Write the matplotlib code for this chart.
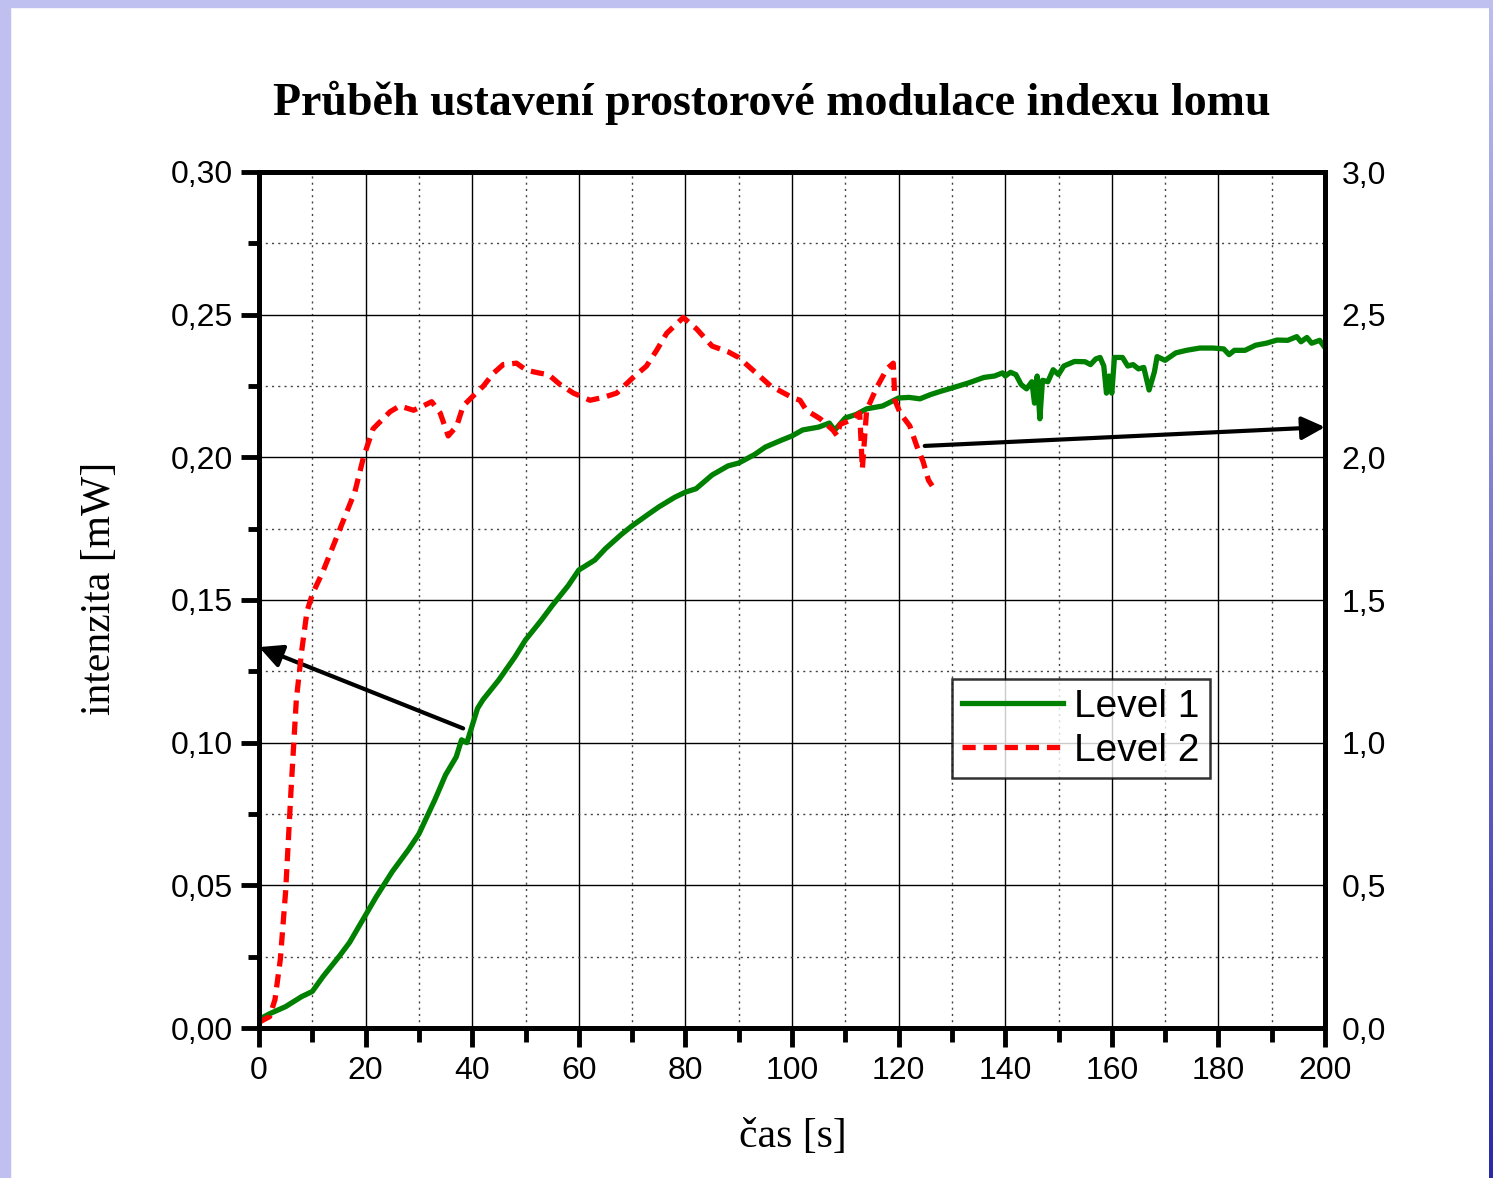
import numpy as np
import matplotlib.pyplot as plt
from matplotlib.ticker import MultipleLocator, FuncFormatter
from matplotlib.colors import LinearSegmentedColormap

# Level 1 - intensity [mW], left axis
t_level1 = [0, 2, 5, 8, 10, 12, 15, 17, 20, 22, 25, 28, 30, 33, 35, 37, 38, 39, 40, 41,
            42, 45, 48, 50, 53, 55, 58, 60, 63, 65, 68, 70, 73, 75, 78, 80, 82, 85, 88, 90,
            93, 95, 98, 100, 102, 105, 107, 108, 110, 112, 114, 117, 120, 122, 124, 126, 128, 130, 133, 136,
            138, 139.5, 140, 141, 142, 143, 144, 145, 145.5, 146, 146.5, 147, 148, 149, 150, 151, 153, 155, 156, 157,
            157.8, 158.5, 159, 159.5, 160, 160.5, 162, 163, 164, 165, 166, 167, 168, 168.5, 170, 172, 174, 176.5, 179, 181,
            182, 183, 185, 187, 189, 191, 193, 194.7, 195.5, 196.6, 197.5, 199, 200]
v_level1 = [0.003, 0.005, 0.0075, 0.011, 0.0128, 0.018, 0.025, 0.030, 0.0396, 0.046, 0.0548, 0.0624, 0.068, 0.080, 0.0887, 0.095, 0.101, 0.100, 0.106, 0.112,
            0.115, 0.122, 0.130, 0.136, 0.143, 0.148, 0.155, 0.1605, 0.164, 0.168, 0.173, 0.176, 0.180, 0.1826, 0.186, 0.1878, 0.189, 0.1938, 0.197, 0.198,
            0.201, 0.2036, 0.206, 0.2075, 0.2096, 0.2106, 0.212, 0.2095, 0.2138, 0.215, 0.217, 0.218, 0.2208, 0.221, 0.2205, 0.222, 0.2232, 0.2243, 0.226, 0.228,
            0.2285, 0.2296, 0.2285, 0.2298, 0.229, 0.2255, 0.224, 0.2265, 0.219, 0.2285, 0.2135, 0.227, 0.2265, 0.2307, 0.229, 0.232, 0.2336, 0.2335, 0.2325, 0.2345,
            0.235, 0.232, 0.2225, 0.2285, 0.2225, 0.235, 0.235, 0.232, 0.2325, 0.231, 0.2315, 0.2236, 0.230, 0.2353, 0.234, 0.2366, 0.2375, 0.2383, 0.2383, 0.238,
            0.236, 0.2375, 0.2375, 0.2393, 0.240, 0.2411, 0.241, 0.2423, 0.2405, 0.242, 0.240, 0.241, 0.2384]

# Level 2 - right axis
t_level2 = [0, 2, 3, 4, 5, 6, 7, 8, 9, 10, 12, 15, 18, 19.6, 21.4, 24.6, 26.4, 29, 30.8, 32.4,
            34, 35.5, 37.1, 38.3, 39.9, 42.1, 44, 45.8, 48.3, 50.2, 52.7, 54.3, 56.5, 59, 62.1, 64.6, 67.1, 70.2, 72.7, 74.6,
            76.5, 79.6, 82.1, 85, 88, 90, 93, 96, 100, 101.5, 102.7, 105.3, 107.7, 108.5, 109, 110.9, 112.7, 113.2, 114, 115.9,
            117.8, 119, 119.3, 120.3, 122.1, 123.4, 124.6, 125.6, 126.3]
v_level2 = [0.02, 0.04, 0.10, 0.24, 0.48, 0.83, 1.15, 1.32, 1.46, 1.52, 1.60, 1.74, 1.88, 2.00, 2.10, 2.16, 2.18, 2.165, 2.18, 2.195,
            2.155, 2.075, 2.11, 2.18, 2.21, 2.25, 2.295, 2.325, 2.33, 2.305, 2.295, 2.29, 2.255, 2.225, 2.20, 2.21, 2.225, 2.28, 2.32, 2.375,
            2.435, 2.49, 2.45, 2.39, 2.37, 2.35, 2.30, 2.25, 2.21, 2.20, 2.165, 2.135, 2.095, 2.075, 2.115, 2.13, 2.155, 1.96, 2.165, 2.245,
            2.31, 2.33, 2.20, 2.155, 2.11, 2.04, 1.985, 1.92, 1.90]

# arrows: (start x, start y) -> (end x, end y), in left-axis units
arrow_from = [(38.3, 0.105), (124.9, 0.204)]
arrow_to = [(0, 0.1335), (200, 0.2106)]


def comma(v, pos, nd):
    return f'{v:.{nd}f}'.replace('.', ',')


plt.rcParams['font.family'] = 'Liberation Sans'
fig = plt.figure(figsize=(14.93, 11.78), dpi=100)

# slide-like frame
fig.patches.append(plt.Rectangle((0, 1 - 7/1178), 1, 7/1178, transform=fig.transFigure,
                                 color='#C0C0F0', zorder=0))
fig.patches.append(plt.Rectangle((0, 0), 10/1493, 1, transform=fig.transFigure,
                                 color='#C0C0F0', zorder=0))
gax = fig.add_axes([1489/1493, 0, 4/1493, 1])
grad = np.linspace(0, 1, 256).reshape(-1, 1)
cm = LinearSegmentedColormap.from_list('frame', ['#BEBEF0', '#2A2AA8'])
gax.imshow(grad, aspect='auto', cmap=cm, origin='upper')
gax.axis('off')

ax = fig.add_axes([259/1493, 1 - 1028/1178, 1066/1493, 856/1178])
ax2 = ax.twinx()

l1, = ax.plot(t_level1, v_level1, color='#008000', lw=3.8, label='Level 1', zorder=3)
l2, = ax2.plot(t_level2, v_level2, color='#FF0000', lw=3.8, ls=(0, (2.5, 1.5)), label='Level 2')

ax.set_xlim(0, 200)
ax.set_ylim(0, 0.30)
ax2.set_ylim(0, 3.0)

ax.xaxis.set_major_locator(MultipleLocator(20))
ax.xaxis.set_minor_locator(MultipleLocator(10))
ax.yaxis.set_major_locator(MultipleLocator(0.05))
ax.yaxis.set_minor_locator(MultipleLocator(0.025))
ax.yaxis.set_major_formatter(FuncFormatter(lambda v, p: comma(v, p, 2)))
ax2.yaxis.set_major_locator(MultipleLocator(0.5))
ax2.yaxis.set_major_formatter(FuncFormatter(lambda v, p: comma(v, p, 1)))

ax.grid(which='major', color='black', lw=1.0, ls='-')
ax.grid(which='minor', color='#444444', lw=1.0, ls=(0, (1.5, 3)))

for a in (ax, ax2):
    for s in a.spines.values():
        s.set_linewidth(3.5)

ax.tick_params(axis='both', which='major', direction='out', width=3.5, labelsize=23)
ax.tick_params(axis='x', which='major', length=14, pad=6)
ax.tick_params(axis='x', which='minor', direction='out', length=10, width=3.5)
ax.tick_params(axis='y', which='major', length=13, pad=6)
ax.tick_params(axis='y', which='minor', direction='out', length=8, width=3.5)
ax2.tick_params(axis='y', which='both', length=0, pad=12, labelsize=23)

for (x0, y0), (x1, y1) in zip(arrow_from, arrow_to):
    ax.annotate('', xy=(x1, y1), xytext=(x0, y0),
                arrowprops=dict(arrowstyle='-|>', color='black', lw=3, mutation_scale=35,
                                shrinkA=0, shrinkB=0),
                annotation_clip=False, zorder=6)

leg = ax2.legend(handles=[l1, l2], loc='upper left', bbox_to_anchor=(0.650, 0.4077),
                 borderaxespad=0, fontsize=28, frameon=True, fancybox=False,
                 handlelength=2.6, handletextpad=0.3, borderpad=0.25, labelspacing=0.2)
leg.get_frame().set_edgecolor('black')
leg.get_frame().set_linewidth(1.8)

fig.text(772/1493, 1 - 103/1178, 'Průběh ustavení prostorové modulace indexu lomu',
         family='Liberation Serif', weight='bold', fontsize=33, ha='center', va='center')
fig.text(100/1493, 1 - 588/1178, 'intenzita [mW]', family='Liberation Serif',
         fontsize=30, rotation=90, ha='center', va='center')
fig.text(793/1493, 1 - 1137/1178, 'čas [s]', family='Liberation Serif',
         fontsize=30, ha='center', va='center')

fig.savefig('out.png', dpi=100, facecolor='white')
